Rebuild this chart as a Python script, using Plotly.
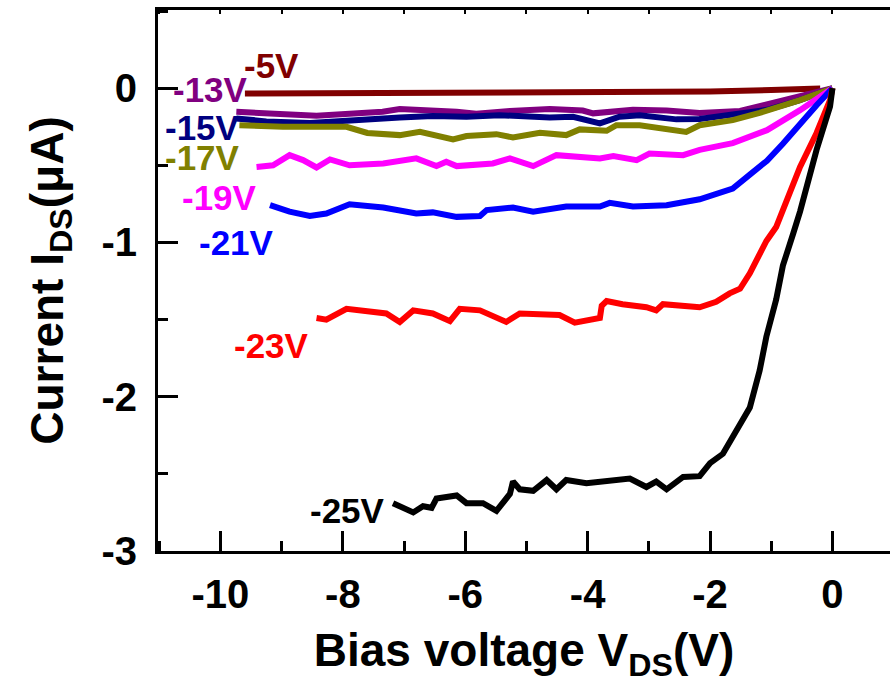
import plotly.graph_objects as go

# ---- data ----
v_5 = [-9.6, -8.0, -6.0, -4.0, -2.0, -1.0, -0.2]
i_5 = [-0.034, -0.033, -0.030, -0.028, -0.022, -0.012, -0.002]

v_13 = [-9.74, -8.98, -8.43, -7.89, -7.35, -7.07, -6.53, -6.14, -5.82, -5.65, -5.27, -4.62, -4.08, -3.91,
        -3.26, -2.71, -2.44, -2.17, -1.51, -1.07, -0.53, 0.0]
i_13 = [-0.153, -0.165, -0.178, -0.165, -0.153, -0.135, -0.14, -0.153, -0.166, -0.16, -0.147, -0.135, -0.145,
        -0.163, -0.14, -0.144, -0.148, -0.16, -0.147, -0.105, -0.056, 0.0]

v_15 = [-9.74, -9.25, -8.54, -7.89, -7.07, -6.53, -5.98, -5.44, -4.62, -4.24, -3.80, -3.48, -3.15, -2.55,
        -2.17, -1.63, -1.07, -0.53, 0.0]
i_15 = [-0.196, -0.215, -0.225, -0.207, -0.19, -0.18, -0.185, -0.175, -0.19, -0.185, -0.228, -0.185, -0.175,
        -0.202, -0.2, -0.17, -0.14, -0.077, 0.0]

v_17 = [-9.69, -8.98, -7.94, -7.6, -7.07, -6.74, -6.20, -5.98, -5.49, -5.22, -4.78, -4.35, -4.13, -3.69,
        -3.53, -3.15, -2.39, -2.17, -1.63, -1.19, -0.53, 0.0]
i_17 = [-0.24, -0.25, -0.25, -0.29, -0.304, -0.283, -0.332, -0.31, -0.298, -0.319, -0.289, -0.304, -0.267,
        -0.276, -0.24, -0.24, -0.283, -0.24, -0.207, -0.16, -0.077, 0.0]

v_19 = [-9.41, -9.14, -8.87, -8.65, -8.43, -8.21, -7.89, -7.34, -6.80, -6.47, -6.31, -6.14, -5.55, -5.27,
        -4.89, -4.73, -4.51, -3.80, -3.58, -3.20, -2.99, -2.44, -2.17, -1.63, -1.07, -0.53, 0.0]
i_19 = [-0.51, -0.50, -0.434, -0.466, -0.514, -0.462, -0.50, -0.488, -0.455, -0.505, -0.477, -0.505, -0.488,
        -0.455, -0.505, -0.477, -0.434, -0.455, -0.44, -0.466, -0.423, -0.434, -0.40, -0.356, -0.272, -0.142, 0.0]

v_21 = [-9.19, -8.87, -8.54, -8.27, -7.89, -7.34, -6.80, -6.53, -6.14, -5.76, -5.65, -5.22, -4.89, -4.35,
        -3.80, -3.64, -3.26, -2.71, -2.17, -1.63, -1.35, -1.07, -0.81, -0.53, -0.26, 0.0]
i_21 = [-0.758, -0.80, -0.828, -0.812, -0.752, -0.773, -0.812, -0.805, -0.834, -0.829, -0.79, -0.773, -0.80,
        -0.767, -0.767, -0.743, -0.767, -0.758, -0.72, -0.65, -0.56, -0.47, -0.36, -0.23, -0.11, 0.0]

v_23 = [-8.43, -8.27, -7.94, -7.29, -7.07, -6.85, -6.53, -6.25, -6.09, -5.76, -5.33, -5.11, -4.46, -4.21,
        -3.80, -3.77, -3.69, -3.43, -3.04, -2.88, -2.77, -2.33, -2.17, -1.90, -1.68, -1.51, -1.35, -1.08,
        -0.92, -0.75, -0.53, -0.26, -0.04, 0.0]
i_23 = [-1.49, -1.50, -1.43, -1.46, -1.515, -1.44, -1.46, -1.51, -1.43, -1.44, -1.515, -1.46, -1.47, -1.52,
        -1.49, -1.41, -1.38, -1.40, -1.42, -1.44, -1.40, -1.42, -1.42, -1.385, -1.33, -1.30, -1.20, -0.99,
        -0.90, -0.73, -0.51, -0.29, -0.078, 0.0]

v_25 = [-7.18, -6.85, -6.69, -6.55, -6.47, -6.14, -5.98, -5.71, -5.49, -5.27, -5.22, -5.11, -4.89, -4.67,
        -4.51, -4.35, -4.02, -3.69, -3.31, -3.04, -2.88, -2.71, -2.44, -2.17, -2.00, -1.79, -1.57, -1.46,
        -1.35, -1.19, -1.08, -0.92, -0.81, -0.64, -0.53, -0.26, -0.04, 0.0]
i_25 = [-2.69, -2.75, -2.71, -2.72, -2.66, -2.64, -2.69, -2.69, -2.74, -2.63, -2.55, -2.60, -2.61, -2.54,
        -2.60, -2.54, -2.56, -2.55, -2.53, -2.585, -2.55, -2.60, -2.52, -2.515, -2.43, -2.37, -2.22, -2.15,
        -2.07, -1.83, -1.61, -1.37, -1.15, -0.94, -0.80, -0.40, -0.12, 0.0]

series_names = ["-5V", "-13V", "-15V", "-17V", "-19V", "-21V", "-23V", "-25V"]
series_v = [v_5, v_13, v_15, v_17, v_19, v_21, v_23, v_25]
series_i = [i_5, i_13, i_15, i_17, i_19, i_21, i_23, i_25]
colors = ["#800000", "#800080", "#000080", "#808000", "#FF00FF", "#0000FF", "#FF0000", "#000000"]

x_ticks = [-10, -8, -6, -4, -2, 0]
y_ticks = [0, -1, -2, -3]

# label anchor positions (data coordinates)
label_x = [-9.16, -10.17, -10.30, -10.30, -10.01, -9.73, -9.16, -7.92]
label_y = [0.15, -0.006, -0.255, -0.452, -0.706, -0.998, -1.667, -2.736]

FONT = "Liberation Sans, Arial, sans-serif"

fig = go.Figure()
for name, vx, iy, c in zip(series_names, series_v, series_i, colors):
    fig.add_trace(go.Scatter(x=vx, y=iy, mode="lines", name=name,
                             line=dict(color=c, width=6), showlegend=False, hoverinfo="skip"))

# invisible trace so the mirrored top axis is drawn
fig.add_trace(go.Scatter(x=[-5], y=[0], xaxis="x2", mode="lines", showlegend=False,
                         hoverinfo="skip", line=dict(width=0)))

for name, lx, ly, c in zip(series_names, label_x, label_y, colors):
    fig.add_annotation(x=lx, y=ly, text=name, showarrow=False, xref="x", yref="y",
                       font=dict(family=FONT, size=35, color=c, weight="bold"))

xr = [-11.02, 0.94]
fig.update_layout(
    width=890, height=683,
    margin=dict(l=158, r=0, t=10, b=132),
    paper_bgcolor="white", plot_bgcolor="white",
    xaxis=dict(range=xr, tickvals=x_ticks, ticktext=[str(t) for t in x_ticks],
               ticks="inside", ticklen=20, tickwidth=3, tickcolor="black",
               minor=dict(dtick=1, tick0=-11, ticks="inside", ticklen=10, tickwidth=3, tickcolor="black"),
               showline=True, linewidth=3, linecolor="black", showgrid=False, zeroline=False,
               tickfont=dict(family=FONT, size=40, color="black", weight="bold"),
               ticklabelstandoff=6,
               title=dict(text="Bias voltage V<sub>DS</sub>(V)", standoff=20,
                          font=dict(family=FONT, size=46, color="black", weight="bold"))),
    xaxis2=dict(range=xr, overlaying="x", side="top", anchor="y", showticklabels=False,
                ticks="inside", ticklen=4, tickwidth=2, tickcolor="black", dtick=1, tick0=-11,
                showline=True, linewidth=3, linecolor="black", showgrid=False, zeroline=False),
    yaxis=dict(range=[-3.0, 0.507], tickvals=y_ticks, ticktext=[str(t) for t in y_ticks],
               ticks="inside", ticklen=20, tickwidth=3, tickcolor="black",
               minor=dict(dtick=0.5, tick0=0, ticks="inside", ticklen=10, tickwidth=3, tickcolor="black"),
               showline=True, linewidth=3, linecolor="black", showgrid=False, zeroline=False,
               tickfont=dict(family=FONT, size=40, color="black", weight="bold"),
               ticklabelstandoff=10,
               title=dict(text="Current I<sub>DS</sub>(μA)", standoff=24,
                          font=dict(family=FONT, size=46, color="black", weight="bold"))),
)

fig.write_html("out.html")
